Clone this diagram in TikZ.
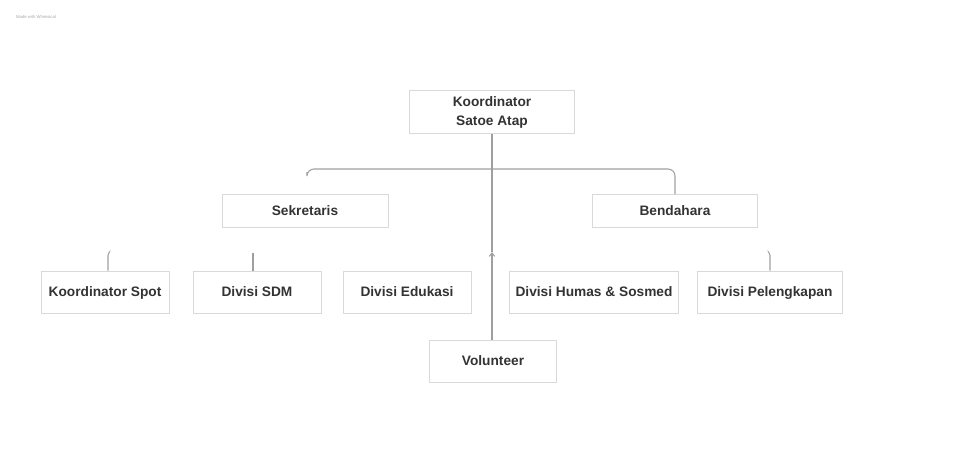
\documentclass[tikz,border=0pt]{standalone}
\usepackage{fontspec}
\setmainfont{Liberation Sans}
\usepackage{tikz}
\usetikzlibrary{arrows.meta}

\begin{document}
\begin{tikzpicture}[
  x=0.2mm, y=-0.2mm,
  box/.style={rectangle, draw=gray!30, fill=white, line width=0.5pt,
              minimum width=25.6mm, minimum height=8.4mm, align=center,
              font=\fontsize{7.8}{10.8}\selectfont\bfseries, text=black!80,
              text height=6pt, text depth=1.2pt},
  conn/.style={draw=gray!75, line width=0.6pt, rounded corners=4},
  tip/.style={-{Straight Barb[length=2pt,width=3pt]}, draw=gray!75, line width=0.6pt}
]
\useasboundingbox (0,0) rectangle (958,449);

% nodi
\node[font=\fontsize{2.4}{3}\selectfont, text=gray!70, anchor=west] (mark) at (10,17) {Made with Whimsical};
\node[box, text height=, text depth=, minimum width=33mm, minimum height=8.2mm] (koor) at (492,112) {Koordinator\\Satoe Atap};
\node[box, minimum width=33.2mm, minimum height=6.6mm] (sek)  at (305,211) {Sekretaris};
\node[box, minimum width=33mm, minimum height=6.6mm]   (bend) at (675,211) {Bendahara};
\node[box] (spot) at (105,292) {Koordinator Spot};
\node[box] (sdm)  at (257,292) {Divisi SDM};
\node[box] (edu)  at (407,292) {Divisi Edukasi};
\node[box, minimum width=32.4mm] (humas) at (594,292) {Divisi Humas \& Sosmed};
\node[box, minimum width=29mm]   (pel)   at (770,292) {Divisi Pelengkapan};
\node[box, minimum width=25.4mm] (vol)   at (493,361) {Volunteer};

\coordinate (barL) at (307,172);
\coordinate (barR) at (675,169);
\coordinate (arr)  at (492,252);

% garis
\draw[conn] (barL) -- ++(0,-3) -- (barR) -- (bend.north);
\draw[tip] (vol.north -| arr) -- (arr);
\draw[conn] (koor.south -| arr) -- (arr);

% tanda kecil
\draw[conn, rounded corners=1] (spot.north) ++(3,0) -- ++(0,-17) -- ++(1,-1);
\draw[conn] (sdm.north) ++(-4,0) -- ++(0,-18);
\draw[conn, rounded corners=1] (pel.north) -- ++(0,-17) -- ++(-1,-1);
\end{tikzpicture}
\end{document}
